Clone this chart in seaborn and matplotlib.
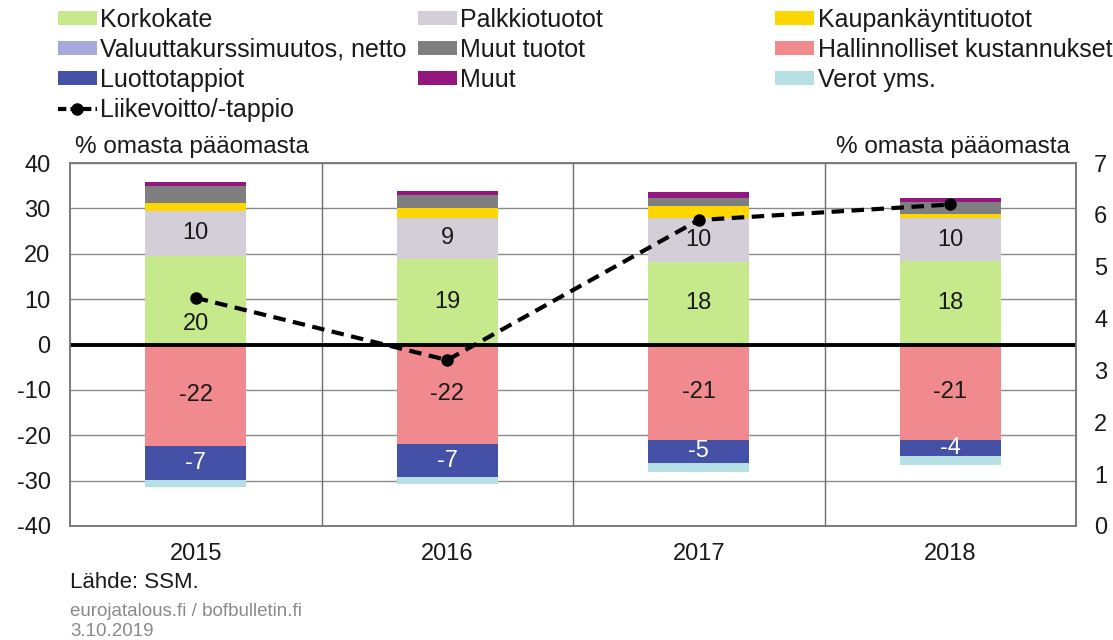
import numpy as np
import pandas as pd
import matplotlib
matplotlib.use("Agg")
import matplotlib.pyplot as plt
from matplotlib.patches import Patch
from matplotlib.lines import Line2D
import seaborn as sns

# DATA (% omasta pääomasta)
years = ['2015', '2016', '2017', '2018']
korkokate = [19.6, 18.9, 18.2, 18.3]
palkkiotuotot = [9.9, 9.0, 9.6, 9.6]
kaupankaynti = [1.7, 2.1, 2.7, 0.8]
valuutta = [0.0, 0.0, 0.0, 0.0]
muut_tuotot = [3.8, 3.0, 1.7, 2.8]
muut = [0.9, 0.9, 1.3, 0.7]
hallinnolliset = [-22.4, -22.0, -21.0, -21.0]
luottotappiot = [-7.4, -7.3, -5.1, -3.6]
verot = [-1.5, -1.5, -1.9, -1.9]
liikevoitto = [4.4, 3.2, 5.9, 6.2]   # right axis

C_KORKO = '#c5e98b'
C_PALKKIO = '#d3ced8'
C_KAUPAN = '#ffd700'
C_VALUUTTA = '#a7a9dd'
C_MUUTTUOT = '#7f7f7f'
C_HALLINTO = '#f08a8f'
C_LUOTTO = '#4551a6'
C_MUUT = '#93177f'
C_VEROT = '#b6e0e3'

sns.set_theme(style='white')
plt.rcParams['font.family'] = ['Liberation Sans', 'DejaVu Sans']
plt.rcParams['axes.unicode_minus'] = False

W, H = 1113, 640
fig = plt.figure(figsize=(W / 100, H / 100), dpi=100)
ax = fig.add_axes([70 / W, 1 - 526 / H, 1006 / W, 363 / H])

# stacked bars via cumulative sums, drawn from the outermost layer inwards
pos_layers = [('Korkokate', korkokate, C_KORKO),
              ('Palkkiotuotot', palkkiotuotot, C_PALKKIO),
              ('Kaupankäyntituotot', kaupankaynti, C_KAUPAN),
              ('Valuuttakurssimuutos, netto', valuutta, C_VALUUTTA),
              ('Muut tuotot', muut_tuotot, C_MUUTTUOT),
              ('Muut', muut, C_MUUT)]
neg_layers = [('Hallinnolliset kustannukset', hallinnolliset, C_HALLINTO),
              ('Luottotappiot', luottotappiot, C_LUOTTO),
              ('Verot yms.', verot, C_VEROT)]

for layers in (pos_layers, neg_layers):
    cum = np.cumsum([vals for _, vals, _ in layers], axis=0)
    for i in range(len(layers) - 1, -1, -1):
        sns.barplot(x=years, y=cum[i], color=layers[i][2], saturation=1,
                    width=0.4, linewidth=0, ax=ax, zorder=2)

# segment labels
pos_cum = np.cumsum([v for _, v, _ in pos_layers], axis=0)
neg_cum = np.cumsum([v for _, v, _ in neg_layers], axis=0)
korko_shift = [-5.3, 0, 0, 0]
for j in range(len(years)):
    ax.text(j, korkokate[j] / 2 + korko_shift[j], f"{korkokate[j]:.0f}",
            ha='center', va='center', fontsize=17, color='#1a1a1a', zorder=5)
    ax.text(j, pos_cum[0][j] + palkkiotuotot[j] / 2, f"{palkkiotuotot[j]:.0f}",
            ha='center', va='center', fontsize=17, color='#1a1a1a', zorder=5)
    ax.text(j, hallinnolliset[j] / 2, f"{hallinnolliset[j]:.0f}",
            ha='center', va='center', fontsize=17, color='#1a1a1a', zorder=5)
    ax.text(j, neg_cum[0][j] + luottotappiot[j] / 2, f"{luottotappiot[j]:.0f}",
            ha='center', va='center', fontsize=17, color='white', zorder=5)

ax.set_xlim(-0.5, len(years) - 0.5)
ax.set_ylim(-40, 40)
ax.set_yticks(range(-40, 41, 10))
ax.yaxis.grid(True, color='#8a8a8a', lw=1)
ax.set_axisbelow(True)
for xv in np.arange(0.5, len(years) - 1, 1):
    ax.axvline(xv, color='#6e6e6e', lw=1, zorder=1)
ax.axhline(0, color='black', lw=2.8, zorder=4)
for sp in ax.spines.values():
    sp.set_color('#7a7a7a')
    sp.set_linewidth(1.2)
ax.tick_params(axis='y', length=0, labelsize=17, pad=14, colors='#1a1a1a')
ax.tick_params(axis='x', length=0, labelsize=17, pad=12, colors='#1a1a1a')
ax.set_xlabel('')
ax.set_ylabel('')

# operating profit on the right axis
ax2 = ax.twinx()
sns.lineplot(x=np.arange(len(years)), y=liikevoitto, ax=ax2, color='black',
             lw=3, marker='o', markersize=9, markeredgewidth=0, zorder=6)
for ln in ax2.get_lines():
    ln.set_linestyle((0, (3, 1.8)))
ax2.set_ylim(0, 7)
ax2.set_yticks(range(0, 8))
ax2.tick_params(axis='y', length=0, labelsize=17, pad=13, colors='#1a1a1a')
ax2.set_xlim(-0.5, len(years) - 0.5)
ax2.set_ylabel('')
for sp in ax2.spines.values():
    sp.set_color('#7a7a7a')
    sp.set_linewidth(1.2)

fig.text(75 / W, 1 - 147 / H, '% omasta pääomasta', fontsize=17.5,
         ha='left', va='center', color='#1a1a1a')
fig.text(1070 / W, 1 - 147 / H, '% omasta pääomasta', fontsize=17.5,
         ha='right', va='center', color='#1a1a1a')

# legend in three columns
cols = [
    ([('Korkokate', C_KORKO), ('Valuuttakurssimuutos, netto', C_VALUUTTA),
      ('Luottotappiot', C_LUOTTO), ('Liikevoitto/-tappio', None)], 58),
    ([('Palkkiotuotot', C_PALKKIO), ('Muut tuotot', C_MUUTTUOT),
      ('Muut', C_MUUT)], 418),
    ([('Kaupankäyntituotot', C_KAUPAN), ('Hallinnolliset kustannukset', C_HALLINTO),
      ('Verot yms.', C_VEROT)], 775),
]
for items, xpix in cols:
    handles = []
    for name, col in items:
        if col is None:
            handles.append(Line2D([0], [0], color='black', lw=3, ls=(0, (2, 1)),
                                  marker='o', markersize=8, label=name))
        else:
            handles.append(Patch(facecolor=col, edgecolor='none', label=name))
    leg = fig.legend(handles=handles, loc='upper left',
                     bbox_to_anchor=(xpix / W, 1 - 8 / H), frameon=False,
                     fontsize=18, handlelength=1.55, handleheight=0.5,
                     handletextpad=0.15, labelspacing=0.24, borderpad=0,
                     borderaxespad=0, numpoints=1)
    for t in leg.get_texts():
        t.set_color('#1a1a1a')

fig.text(70 / W, 1 - 582 / H, 'Lähde: SSM.', fontsize=16, ha='left', va='center',
         color='#1a1a1a')
fig.text(70 / W, 1 - 612 / H, 'eurojatalous.fi / bofbulletin.fi', fontsize=13.5,
         ha='left', va='center', color='#8a8a8a')
fig.text(70 / W, 1 - 631 / H, '3.10.2019', fontsize=13.5, ha='left', va='center',
         color='#8a8a8a')

fig.savefig('out.png', dpi=100)
